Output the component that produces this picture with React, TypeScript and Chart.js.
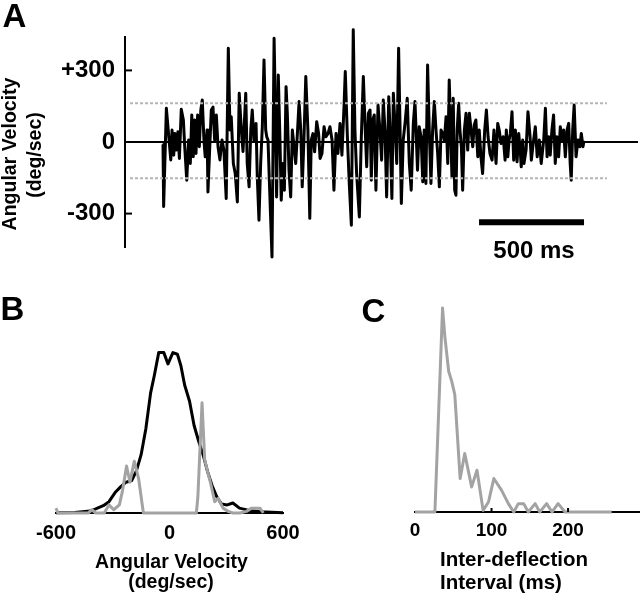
import React, { useEffect, useRef } from "react";
import { Chart, registerables } from "chart.js";

Chart.register(...registerables);

const FONT = '"Liberation Sans", Arial, Helvetica, sans-serif';

// ---------- Panel A: angular velocity trace ----------
const traceTimeMs = [
  0, 3, 16, 29, 37, 43, 51, 56, 63, 71,
  78, 87, 97, 103, 113, 122, 130, 137, 144, 151,
  157, 165, 173, 180, 187, 195, 201, 210, 214, 222,
  230, 238, 246, 254, 262, 271, 281, 290, 301, 311,
  319, 325, 335, 344, 354, 363, 373, 381, 394, 401,
  410, 418, 425, 433, 443, 449, 457, 465, 473, 481,
  489, 494, 500, 508, 519, 529, 537, 541, 549, 557,
  563, 571, 578, 586, 592, 600, 608, 616, 624, 632,
  640, 648, 656, 663, 671, 680, 690, 699, 706, 714,
  722, 732, 741, 748, 757, 767, 776, 786, 795, 805,
  814, 824, 833, 843, 852, 862, 868, 878, 887, 897,
  906, 914, 922, 935, 944, 954, 963, 970, 978, 986,
  992, 999, 1006, 1014, 1024, 1033, 1041, 1049, 1057, 1065,
  1075, 1081, 1090, 1097, 1106, 1113, 1122, 1129, 1135, 1144,
  1154, 1163, 1173, 1182, 1192, 1200, 1212, 1220, 1229, 1237,
  1244, 1252, 1260, 1268, 1276, 1284, 1292, 1300, 1308, 1316,
  1324, 1332, 1340, 1348, 1356, 1363, 1370, 1376, 1382, 1389,
  1395, 1401, 1408, 1414, 1421, 1427, 1435, 1443, 1451, 1459,
  1467, 1475, 1482, 1490, 1499, 1506, 1514, 1522, 1532, 1540,
  1548, 1557, 1567, 1576, 1586, 1594, 1601, 1610, 1620, 1629,
  1635, 1642, 1648, 1654, 1662, 1670, 1678, 1686, 1694, 1702,
  1706, 1713, 1719, 1729, 1738, 1748, 1754, 1763, 1773, 1782,
  1792, 1801, 1813, 1821, 1829, 1837, 1844, 1852, 1860, 1868,
  1876, 1884, 1892, 1900, 1908, 1916, 1924, 1932, 1939, 1944,
  1951, 1958, 1967, 1976, 1985, 1992, 2000, 2005,
];
const traceDegPerSec = [
  -10, -270, 141, 8, -75, 50, -55, 36, -34, 43,
  -69, 137, 92, -13, -160, 8, -90, 113, -62, 92,
  -48, 113, -20, 134, 176, 8, -62, 50, -209, -34,
  134, 146, 8, 113, -20, -75, 8, -34, -237, 393,
  50, 106, -90, -132, -251, 204, 50, -40, 204, -90,
  -188, 50, 134, 8, 78, -146, -328, -90, 64, 344,
  50, 22, 8, -202, -482, 435, 50, -230, 281, 8,
  -244, -90, -202, 232, 120, -118, -230, 50, -20, -90,
  36, 170, 50, -188, 8, 274, 50, -320, 8, 35,
  -41, 85, 36, -69, -48, 64, 22, 36, 64, 8,
  -202, 36, -48, 78, -55, 148, 295, 22, -174, -349,
  470, 50, -132, -314, 8, 274, 50, -104, 120, 134,
  -160, 92, 113, -202, 155, 50, -76, 176, 50, -230,
  190, 50, -237, 204, 50, -90, 393, 50, -258, 8,
  92, 183, -90, -202, 78, 170, -118, 64, 22, -167,
  50, -174, 323, 50, -174, 50, 170, 50, -48, -188,
  50, 36, 8, 106, -90, 260, 50, -146, 183, -202,
  -223, 50, 162, 50, -20, -202, 50, 120, -34, 120,
  50, -20, 71, 92, -62, 50, -62, -132, 50, 134,
  22, -48, -76, 50, -90, 78, 50, -6, 22, -76,
  50, -62, 8, 36, 127, -76, 50, -83, 36, -48,
  -104, 8, -90, -34, 127, 22, -76, -6, 64, -62,
  8, -90, 8, 141, -62, 22, -55, 50, 113, -90,
  22, -62, 64, 8, 50, -62, 50, 78, -90, -160,
  50, 155, -62, 8, -20, 36, -20, 5,
];
const aRangeMs = [-181, 2262];
const aRangeDeg = [-440, 440];
const aTicks = [-300, 0, 300];
const aTickLabels = ["-300", "0", "+300"];
const thresholdUpper = 162;
const thresholdLower = -152;
const thresholdSpanMs = [-157, 2114];
const scaleBarMs = [1505, 2005];
const scaleBarLevel = -336;

// ---------- Panel B: angular velocity distributions ----------
const bAllVelocity = [
  -600, -500, -420, -390, -350, -320, -285, -260, -230, -200, -175, -150, -125,
  -100, -80, -57, -30, -8, 18, 42, 60, 80, 106, 130, 155, 180, 200, 225, 250,
  275, 305, 335, 370, 420, 480, 540, 600,
];
const bAllCount = [
  0.2, 0.3, 1.2, 2.5, 4.5, 7, 13, 16, 19, 20, 26, 36, 52,
  74, 85, 99, 99, 92, 99, 98, 91, 79, 69, 54, 44, 35, 26, 17, 10,
  5.5, 5, 6.2, 3, 1.6, 0.8, 0.4, 0.1,
];
const bDeflVelocity = [
  -600, -590, -430, -410, -390, -345, -320, -295, -265, -248, -227, -209, -186,
  -163, -138, 142, 150, 172, 186, 200, 212, 239, 257, 283, 310, 336, 372, 407,
  434, 478, 496,
];
const bDeflCount = [
  3, 0, 0, 2, 0, 0, 5, 2, 5, 14, 29, 19, 32,
  21, 0, 0, 10, 68, 33, 26, 21, 7, 9, 3, 1, 0, 0, 1,
  3, 3, 0,
];
const bTicks = [-600, 0, 600];

// ---------- Panel C: inter-deflection interval ----------
const cIntervalMs = [
  0, 26, 36, 39, 44, 48, 52, 59, 65, 74, 81, 89, 96, 103, 113, 122, 129,
  135, 142, 148, 157, 163, 172, 179, 187, 196, 257,
];
const cCount = [
  0, 0, 100, 86, 69, 64, 57.5, 16.4, 28.7, 12.3, 20.5, 0.8, 4.9, 16.4, 10.7,
  4.1, 0, 4.1, 4.1, 0, 4.1, 0, 4.1, 0, 4.1, 0, 0,
];
const cTicks = [0, 100, 200];

const GREY = "#a3a3a3";
const DASH_GREY = "#b4b4b4";

const pts = (xs: number[], ys: number[]) => xs.map((x, i) => ({ x, y: ys[i] }));

const inwardTicks = (axisId: string, len: number, values: number[]) => ({
  id: "inwardTicks",
  afterDatasetsDraw(chart: any) {
    const s = chart.scales[axisId];
    const a = chart.chartArea;
    const ctx = chart.ctx;
    ctx.save();
    ctx.strokeStyle = "#000";
    ctx.lineWidth = 2;
    for (const v of values) {
      const p = s.getPixelForValue(v);
      ctx.beginPath();
      if (s.isHorizontal()) {
        ctx.moveTo(p, a.bottom);
        ctx.lineTo(p, a.bottom - len);
      } else {
        ctx.moveTo(a.left, p);
        ctx.lineTo(a.left + len, p);
      }
      ctx.stroke();
    }
    ctx.restore();
  },
});

const baseOptions = {
  animation: false,
  responsive: false,
  devicePixelRatio: 1,
  events: [],
  plugins: { legend: { display: false }, tooltip: { enabled: false } },
  elements: { point: { radius: 0 }, line: { tension: 0 } },
};

const lineDs = (data: any[], color: string, width: number, extra: any = {}) => ({
  data,
  borderColor: color,
  borderWidth: width,
  pointRadius: 0,
  fill: false,
  clip: false,
  borderJoinStyle: "round",
  ...extra,
});

function configA(): any {
  return {
    type: "line",
    data: {
      datasets: [
        lineDs(pts(thresholdSpanMs, [thresholdUpper, thresholdUpper]), DASH_GREY, 2, { borderDash: [3, 2] }),
        lineDs(pts(thresholdSpanMs, [thresholdLower, thresholdLower]), DASH_GREY, 2, { borderDash: [3, 2] }),
        lineDs(pts(aRangeMs, [0, 0]), "#000", 2),
        lineDs(pts(scaleBarMs, [scaleBarLevel, scaleBarLevel]), "#000", 6, { borderCapStyle: "butt" }),
        lineDs(pts(traceTimeMs, traceDegPerSec), "#000", 3),
      ],
    },
    options: {
      ...baseOptions,
      layout: { padding: { top: 37, bottom: 43, left: 0, right: 2 } },
      scales: {
        x: { type: "linear", display: false, min: aRangeMs[0], max: aRangeMs[1] },
        y: {
          type: "linear",
          min: aRangeDeg[0],
          max: aRangeDeg[1],
          afterBuildTicks: (s: any) => {
            s.ticks = aTicks.map((v) => ({ value: v }));
          },
          afterFit: (s: any) => {
            s.width = 125;
          },
          grid: { display: false, drawTicks: false },
          border: { display: true, color: "#000", width: 2 },
          ticks: {
            padding: 10,
            color: "#000",
            font: { family: FONT, size: 24, weight: "bold" },
            callback: (v: number) => aTickLabels[aTicks.indexOf(v)],
          },
        },
      },
    },
    plugins: [inwardTicks("y", 7, [300, -300])],
  };
}

function configB(): any {
  return {
    type: "line",
    data: {
      datasets: [
        lineDs(pts(bDeflVelocity, bDeflCount), GREY, 3),
        lineDs(pts(bAllVelocity, bAllCount), "#000", 3),
      ],
    },
    options: {
      ...baseOptions,
      layout: { padding: { top: 31, bottom: 0, left: 56, right: 37 } },
      scales: {
        x: {
          type: "linear",
          min: -600,
          max: 600,
          afterBuildTicks: (s: any) => {
            s.ticks = bTicks.map((v) => ({ value: v }));
          },
          afterFit: (s: any) => {
            s.height = 47;
          },
          grid: { display: false, drawTicks: false },
          border: { display: true, color: "#000", width: 2 },
          ticks: {
            padding: 8,
            maxRotation: 0,
            autoSkip: false,
            color: "#000",
            font: { family: FONT, size: 20, weight: "bold" },
          },
        },
        y: { type: "linear", display: false, min: 0, max: 100 },
      },
    },
  };
}

function configC(): any {
  return {
    type: "line",
    data: {
      datasets: [lineDs(pts(cIntervalMs, cCount), GREY, 3)],
    },
    options: {
      ...baseOptions,
      layout: { padding: { top: 18, bottom: 0, left: 95, right: 0 } },
      scales: {
        x: {
          type: "linear",
          min: 0,
          max: 294,
          afterBuildTicks: (s: any) => {
            s.ticks = cTicks.map((v) => ({ value: v }));
          },
          afterFit: (s: any) => {
            s.height = 48;
          },
          grid: { display: false, drawTicks: false },
          border: { display: true, color: "#000", width: 2 },
          ticks: {
            padding: 7,
            maxRotation: 0,
            autoSkip: false,
            color: "#000",
            font: { family: FONT, size: 19, weight: "bold" },
          },
        },
        y: { type: "linear", display: false, min: 0, max: 100 },
      },
    },
    plugins: [inwardTicks("x", 4, [100, 200])],
  };
}

function ChartCanvas(props: { left: number; top: number; width: number; height: number; make: () => any }) {
  const ref = useRef<HTMLCanvasElement>(null);
  useEffect(() => {
    const chart = new Chart(ref.current as HTMLCanvasElement, props.make());
    return () => chart.destroy();
  }, []);
  return (
    <canvas
      ref={ref}
      width={props.width}
      height={props.height}
      style={{ position: "absolute", left: props.left, top: props.top, width: props.width, height: props.height }}
    />
  );
}

function Txt(props: { x: number; y: number; size: number; left?: boolean; rotate?: boolean; children: React.ReactNode }) {
  const tx = props.left ? "0" : "-50%";
  return (
    <div
      style={{
        position: "absolute",
        left: props.x,
        top: props.y,
        transform: `translate(${tx}, -50%)${props.rotate ? " rotate(-90deg)" : ""}`,
        fontFamily: FONT,
        fontWeight: "bold",
        fontSize: props.size,
        lineHeight: 1,
        whiteSpace: "nowrap",
        color: "#000",
      }}
    >
      {props.children}
    </div>
  );
}

export default function App() {
  return (
    <div style={{ position: "absolute", left: 0, top: 0, width: 640, height: 596, background: "#fff", overflow: "hidden" }}>
      <ChartCanvas left={0} top={0} width={640} height={290} make={configA} />
      <ChartCanvas left={0} top={320} width={320} height={240} make={configB} />
      <ChartCanvas left={320} top={290} width={320} height={270} make={configC} />

      <Txt x={14.5} y={15} size={33}>A</Txt>
      <Txt x={12.5} y={308} size={33}>B</Txt>
      <Txt x={373.5} y={310} size={33}>C</Txt>

      <Txt x={10} y={154} size={19.5} rotate>Angular Velocity</Txt>
      <Txt x={35} y={155} size={19.5} rotate>(deg/sec)</Txt>
      <Txt x={534} y={250} size={24}>500 ms</Txt>

      <Txt x={171.5} y={561.5} size={19.5}>Angular Velocity</Txt>
      <Txt x={171} y={582} size={19.5}>(deg/sec)</Txt>

      <Txt x={440} y={559} size={20.5} left>Inter-deflection</Txt>
      <Txt x={440} y={582} size={20.5} left>Interval (ms)</Txt>
    </div>
  );
}
